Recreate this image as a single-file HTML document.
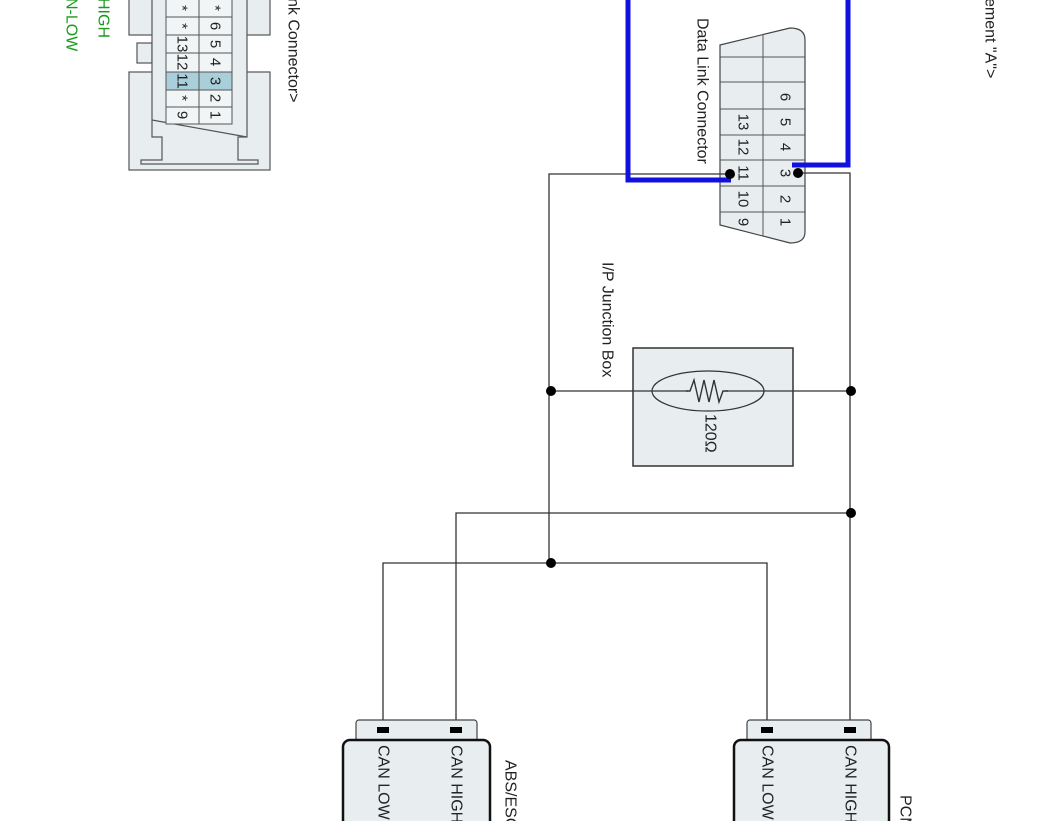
<!DOCTYPE html>
<html><head><meta charset="utf-8"><style>
html,body{margin:0;padding:0;background:#fff;}
svg{display:block;}
text{font-family:"Liberation Sans",sans-serif;}
</style></head><body>
<svg width="1062" height="821" viewBox="0 0 1062 821" xmlns="http://www.w3.org/2000/svg">
<!-- small connector top-left -->
<g stroke="#555" stroke-width="1.2" fill="#e8eef0">
<rect x="129" y="72" width="141" height="98"/>
<rect x="129" y="-2" width="141" height="37"/>
<rect x="137" y="43" width="15" height="20"/>
<path d="M152,-2 L247,-2 L247,137 L238,137 L238,160 L258,160 L258,164 L141,164 L141,160 L162,160 L162,137 L152,137 Z"/>
<path d="M152,120 L247,137" fill="none"/>
</g>
<g stroke="#555" stroke-width="1" fill="#f2f5f6">
<rect x="166" y="-2" width="33" height="19"/><rect x="199" y="-2" width="33" height="19"/>
<rect x="166" y="17" width="33" height="18"/><rect x="199" y="17" width="33" height="18"/>
<rect x="166" y="35" width="33" height="18"/><rect x="199" y="35" width="33" height="18"/>
<rect x="166" y="53" width="33" height="19"/><rect x="199" y="53" width="33" height="19"/>
<rect x="166" y="72" width="33" height="18" fill="#a9d0da"/><rect x="199" y="72" width="33" height="18" fill="#a9d0da"/>
<rect x="166" y="90" width="33" height="17"/><rect x="199" y="90" width="33" height="17"/>
<rect x="166" y="107" width="33" height="17"/><rect x="199" y="107" width="33" height="17"/>
</g>
<g font-size="15" fill="#222" text-anchor="middle" dominant-baseline="central">
<text transform="translate(182,8) rotate(90)">*</text><text transform="translate(215,8) rotate(90)">*</text>
<text transform="translate(182,26) rotate(90)">*</text><text transform="translate(215,26) rotate(90)">6</text>
<text transform="translate(182,44) rotate(90)">13</text><text transform="translate(215,44) rotate(90)">5</text>
<text transform="translate(182,62) rotate(90)">12</text><text transform="translate(215,62) rotate(90)">4</text>
<text transform="translate(182,81) rotate(90)">11</text><text transform="translate(215,81) rotate(90)">3</text>
<text transform="translate(182,98) rotate(90)">*</text><text transform="translate(215,98) rotate(90)">2</text>
<text transform="translate(182,115) rotate(90)">9</text><text transform="translate(215,115) rotate(90)">1</text>
</g>
<!-- DLC -->
<path d="M720,45 L790,28 Q805,28 805,40 L805,232 Q805,243 790,243 L720,225 Z" fill="#e8eef0" stroke="#444" stroke-width="1.2"/>
<g stroke="#555" stroke-width="1">
<line x1="763" y1="34" x2="763" y2="236"/>
<line x1="720" y1="57" x2="805" y2="57"/><line x1="720" y1="82" x2="805" y2="82"/>
<line x1="720" y1="109" x2="805" y2="109"/><line x1="720" y1="135" x2="805" y2="135"/>
<line x1="720" y1="160" x2="805" y2="160"/><line x1="720" y1="186" x2="805" y2="186"/>
<line x1="720" y1="212" x2="805" y2="212"/>
</g>
<g font-size="15" fill="#222" text-anchor="middle" dominant-baseline="central">
<text transform="translate(785,97) rotate(90)">6</text>
<text transform="translate(785,122) rotate(90)">5</text><text transform="translate(743,122) rotate(90)">13</text>
<text transform="translate(785,147) rotate(90)">4</text><text transform="translate(743,147) rotate(90)">12</text>
<text transform="translate(785,173) rotate(90)">3</text><text transform="translate(743,173) rotate(90)">11</text>
<text transform="translate(785,199) rotate(90)">2</text><text transform="translate(743,199) rotate(90)">10</text>
<text transform="translate(785,222) rotate(90)">1</text><text transform="translate(743,222) rotate(90)">9</text>
</g>
<!-- junction box -->
<rect x="633" y="348" width="160" height="118" fill="#e8eef0" stroke="#333" stroke-width="1.5"/>
<!-- wires -->
<g stroke="#333" stroke-width="1.3" fill="none">
<polyline points="730,174 549,174 549,563"/>
<polyline points="797,173 850,173 850,735"/>
<line x1="549" y1="391" x2="850" y2="391"/>
<polyline points="851,513 456,513 456,730"/>
<polyline points="383,730 383,563 767,563 767,730"/>
</g>
<ellipse cx="708" cy="391" rx="56" ry="20" fill="#e8eef0" stroke="#333" stroke-width="1.2"/>
<line x1="652" y1="391" x2="764" y2="391" stroke="#333" stroke-width="1.2"/>
<rect x="688" y="380" width="38" height="22" fill="#e8eef0"/>
<polyline points="686,391 690,391 694,380 699,402 704,380 709,402 714,380 719,402 723,391 728,391" fill="none" stroke="#333" stroke-width="1.4"/>
<!-- blue -->
<g stroke="#1010e0" stroke-width="5" fill="none">
<polyline points="628,-3 628,180 731,180"/>
<polyline points="848,-3 848,165 792,165"/>
</g>
<g fill="#000">
<circle cx="730" cy="174" r="5"/><circle cx="798" cy="173" r="5"/>
<circle cx="551" cy="391" r="5"/><circle cx="851" cy="391" r="5"/>
<circle cx="851" cy="513" r="5"/><circle cx="551" cy="563" r="5"/>
</g>
<!-- ECUs -->
<g stroke="#444" stroke-width="1.2" fill="#e8eef0">
<rect x="356" y="720" width="121" height="25" rx="3"/>
<rect x="747" y="720" width="124" height="25" rx="3"/>
</g>
<g stroke="#111" stroke-width="2.5" fill="#e8eef0">
<rect x="343" y="740" width="147" height="100" rx="7"/>
<rect x="734" y="740" width="155" height="100" rx="7"/>
</g>
<g fill="#000">
<rect x="377" y="727" width="12" height="6"/><rect x="450" y="727" width="12" height="6"/>
<rect x="761" y="727" width="12" height="6"/><rect x="844" y="727" width="12" height="6"/>
</g>
<g font-size="16" fill="#222" dominant-baseline="central">
<text transform="translate(293,-2) rotate(90)">nk Connector&gt;</text>
<text transform="translate(990,-2) rotate(90)">ement "A"&gt;</text>
<text transform="translate(702,18) rotate(90)">Data Link Connector</text>
<text transform="translate(607,262) rotate(90)">I/P Junction Box</text>
<text transform="translate(710,414) rotate(90)">120Ω</text>
<text transform="translate(383,745) rotate(90)">CAN LOW</text>
<text transform="translate(456,745) rotate(90)">CAN HIGH</text>
<text transform="translate(510,760) rotate(90)">ABS/ESC</text>
<text transform="translate(767,745) rotate(90)">CAN LOW</text>
<text transform="translate(850,745) rotate(90)">CAN HIGH</text>
<text transform="translate(905,795) rotate(90)">PCM</text>
</g>
<g font-size="16" fill="#1a9a1a" dominant-baseline="central">
<text transform="translate(103,-2) rotate(90)">HIGH</text>
<text transform="translate(71,-2) rotate(90)">N-LOW</text>
</g>
</svg>
</body></html>
